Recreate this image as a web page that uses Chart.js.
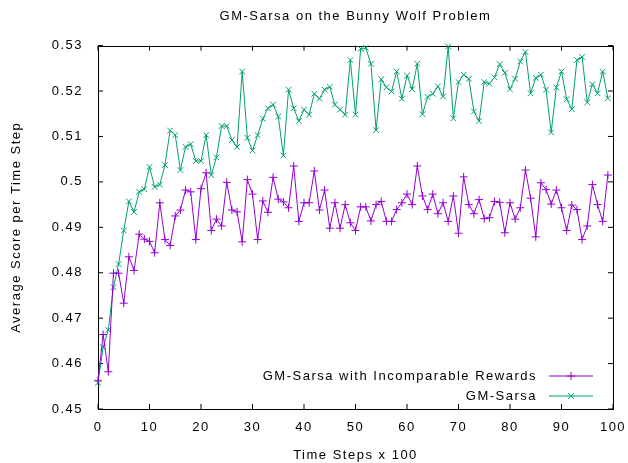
<!DOCTYPE html>
<html>
<head>
<meta charset="utf-8">
<script src="https://cdn.jsdelivr.net/npm/chart.js@4/dist/chart.umd.min.js"></script>
<style>
    html, body { margin: 0; padding: 0; background: #fff; }
</style>
</head>
<body>
<canvas id="grafica" width="628" height="463"></canvas>
<script>
"use strict";
/* Datos de la gráfica */
const pasos = [0, 1, 2, 3, 4, 5, 6, 7, 8, 9, 10, 11, 12, 13, 14, 15, 16, 17, 18, 19,
    20, 21, 22, 23, 24, 25, 26, 27, 28, 29, 30, 31, 32, 33, 34, 35, 36, 37, 38, 39,
    40, 41, 42, 43, 44, 45, 46, 47, 48, 49, 50, 51, 52, 53, 54, 55, 56, 57, 58, 59,
    60, 61, 62, 63, 64, 65, 66, 67, 68, 69, 70, 71, 72, 73, 74, 75, 76, 77, 78, 79,
    80, 81, 82, 83, 84, 85, 86, 87, 88, 89, 90, 91, 92, 93, 94, 95, 96, 97, 98, 99];

const incomparables = [0.4562, 0.4664, 0.4582, 0.4799, 0.4799, 0.4733, 0.4835, 0.4805, 0.4885, 0.4874,
    0.4869, 0.4844, 0.4954, 0.4873, 0.4860, 0.4925, 0.4938, 0.4982, 0.4978, 0.4873,
    0.4985, 0.5020, 0.4893, 0.4918, 0.4903, 0.4999, 0.4938, 0.4934, 0.4868, 0.5005,
    0.4973, 0.4873, 0.4958, 0.4933, 0.5010, 0.4962, 0.4956, 0.4943, 0.5035, 0.4913,
    0.4954, 0.4954, 0.5024, 0.4938, 0.4982, 0.4898, 0.4954, 0.4898, 0.4950, 0.4910,
    0.4893, 0.4945, 0.4945, 0.4914, 0.4950, 0.4957, 0.4913, 0.4913, 0.4939, 0.4954,
    0.4973, 0.4950, 0.5035, 0.4969, 0.4939, 0.4973, 0.4930, 0.4954, 0.4913, 0.4969,
    0.4887, 0.5011, 0.4950, 0.4930, 0.4961, 0.4919, 0.4921, 0.4957, 0.4955, 0.4888,
    0.4954, 0.4918, 0.4943, 0.5026, 0.4964, 0.4879, 0.4998, 0.4983, 0.4951, 0.4982,
    0.4943, 0.4893, 0.4949, 0.4939, 0.4873, 0.4903, 0.4994, 0.4950, 0.4913, 0.5015];

const gmSarsa = [0.4558, 0.4636, 0.4674, 0.4768, 0.4819, 0.4893, 0.4957, 0.4934, 0.4978, 0.4984,
    0.5033, 0.4989, 0.4994, 0.5037, 0.5113, 0.5103, 0.5026, 0.5077, 0.5083, 0.5046,
    0.5046, 0.5103, 0.5015, 0.5054, 0.5123, 0.5123, 0.5092, 0.5077, 0.5243, 0.5097,
    0.5069, 0.5103, 0.5139, 0.5162, 0.5170, 0.5144, 0.5058, 0.5203, 0.5162, 0.5134,
    0.5159, 0.5148, 0.5194, 0.5183, 0.5203, 0.5209, 0.5170, 0.5159, 0.5148, 0.5268,
    0.5148, 0.5293, 0.5295, 0.5260, 0.5114, 0.5226, 0.5208, 0.5199, 0.5243, 0.5183,
    0.5234, 0.5204, 0.5260, 0.5149, 0.5187, 0.5194, 0.5210, 0.5188, 0.5298, 0.5140,
    0.5220, 0.5236, 0.5227, 0.5155, 0.5134, 0.5220, 0.5216, 0.5230, 0.5259, 0.5240,
    0.5204, 0.5227, 0.5265, 0.5286, 0.5195, 0.5229, 0.5236, 0.5203, 0.5109, 0.5208,
    0.5243, 0.5182, 0.5160, 0.5268, 0.5275, 0.5175, 0.5215, 0.5195, 0.5243, 0.5184];

const marcasX = [0, 10, 20, 30, 40, 50, 60, 70, 80, 90, 100];
const marcasY = [0.45, 0.46, 0.47, 0.48, 0.49, 0.5, 0.51, 0.52, 0.53];
const etiquetasY = ["0.45", "0.46", "0.47", "0.48", "0.49", "0.5", "0.51", "0.52", "0.53"];

const colorMorado = "#9400d3";
const colorVerde = "#009e73";
const fuente = "'Liberation Sans', Arial, sans-serif";

function puntos(valores) {
    return pasos.map((p, i) => ({ x: p, y: valores[i] }));
}

/* Espaciado de letras al estilo gnuplot */
const espaciado = {
    id: "espaciado",
    beforeInit(chart) { chart.ctx.letterSpacing = "1.5px"; },
    beforeLayout(chart) { chart.ctx.letterSpacing = "1.5px"; },
    beforeDraw(chart) { chart.ctx.letterSpacing = "1.5px"; }
};

/* Marco y marcas hacia dentro */
const marco = {
    id: "marco",
    beforeDatasetsDraw(chart) {
        const { ctx, chartArea: a, scales } = chart;
        ctx.save();
        ctx.strokeStyle = "#000";
        ctx.lineWidth = 1;
        const largo = 5;
        marcasX.forEach(v => {
            const x = scales.x.getPixelForValue(v);
            ctx.beginPath();
            ctx.moveTo(x, a.bottom); ctx.lineTo(x, a.bottom - largo);
            ctx.moveTo(x, a.top); ctx.lineTo(x, a.top + largo);
            ctx.stroke();
        });
        marcasY.forEach(v => {
            const y = scales.y.getPixelForValue(v);
            ctx.beginPath();
            ctx.moveTo(a.left, y); ctx.lineTo(a.left + largo, y);
            ctx.moveTo(a.right, y); ctx.lineTo(a.right - largo, y);
            ctx.stroke();
        });
        ctx.strokeRect(Math.round(a.left) + 0.5, Math.round(a.top) + 0.5,
            Math.round(a.right - a.left), Math.round(a.bottom - a.top));
        ctx.restore();
    }
};

/* Leyenda dentro del área, abajo a la derecha */
const leyenda = {
    id: "leyenda",
    afterDraw(chart) {
        const { ctx, chartArea: a } = chart;
        ctx.save();
        ctx.font = "13px " + fuente;
        ctx.fillStyle = "#000";
        ctx.textAlign = "right";
        ctx.textBaseline = "middle";
        chart.data.datasets.forEach((ds, i) => {
            const y = a.bottom - 33 + i * 20;
            ctx.fillText(ds.label, a.right - 76, y);
            ctx.strokeStyle = ds.borderColor;
            ctx.lineWidth = 1;
            ctx.beginPath();
            ctx.moveTo(a.right - 64, y);
            ctx.lineTo(a.right - 20, y);
            ctx.stroke();
            const cx = a.right - 42;
            ctx.beginPath();
            if (ds.pointStyle === "cross") {
                ctx.moveTo(cx - 4, y); ctx.lineTo(cx + 4, y);
                ctx.moveTo(cx, y - 4); ctx.lineTo(cx, y + 4);
            } else {
                ctx.moveTo(cx - 3, y - 3); ctx.lineTo(cx + 3, y + 3);
                ctx.moveTo(cx - 3, y + 3); ctx.lineTo(cx + 3, y - 3);
            }
            ctx.stroke();
        });
        ctx.restore();
    }
};

function inicializarGrafica() {
    const canvas = document.getElementById("grafica");

    new Chart(canvas, {
        type: "line",
        data: {
            datasets: [{
                label: "GM-Sarsa with Incomparable Rewards",
                data: puntos(incomparables),
                borderColor: colorMorado,
                backgroundColor: colorMorado,
                borderWidth: 1,
                pointStyle: "cross",
                pointRadius: 4,
                pointBorderWidth: 1,
                tension: 0,
                clip: false
            }, {
                label: "GM-Sarsa",
                data: puntos(gmSarsa),
                borderColor: colorVerde,
                backgroundColor: colorVerde,
                borderWidth: 1,
                pointStyle: "crossRot",
                pointRadius: 4,
                pointBorderWidth: 1,
                tension: 0,
                clip: false
            }]
        },
        options: {
            responsive: false,
            devicePixelRatio: 1,
            animation: false,
            layout: { padding: { left: 0, right: 15, top: 0, bottom: 0 } },
            plugins: {
                legend: { display: false },
                tooltip: { enabled: false },
                title: {
                    display: true,
                    fullSize: false,
                    text: "GM-Sarsa on the Bunny Wolf Problem",
                    color: "#000",
                    font: { family: fuente, size: 13, weight: "normal" },
                    padding: { top: 9, bottom: 21 }
                }
            },
            scales: {
                x: {
                    type: "linear",
                    min: 0,
                    max: 100,
                    grid: { display: false, drawTicks: false },
                    border: { display: false },
                    ticks: {
                        stepSize: 10,
                        padding: 11,
                        color: "#000",
                        maxRotation: 0,
                        font: { family: fuente, size: 13 }
                    },
                    title: {
                        display: true,
                        text: "Time Steps x 100",
                        color: "#000",
                        font: { family: fuente, size: 13 },
                        padding: { top: 0, bottom: 0 }
                    },
                    afterFit(scale) {
                        scale.height = 54;
                        scale.paddingLeft = 0;
                        scale.paddingRight = 0;
                    }
                },
                y: {
                    min: 0.45,
                    max: 0.53,
                    grid: { display: false, drawTicks: false },
                    border: { display: false },
                    afterBuildTicks(scale) {
                        scale.ticks = marcasY.map(v => ({ value: v }));
                    },
                    ticks: {
                        padding: 15,
                        color: "#000",
                        font: { family: fuente, size: 13 },
                        callback: v => {
                            const i = marcasY.findIndex(m => Math.abs(m - v) < 1e-9);
                            return i >= 0 ? etiquetasY[i] : "";
                        }
                    },
                    title: {
                        display: true,
                        text: "Average Score per Time Step",
                        color: "#000",
                        font: { family: fuente, size: 13 },
                        padding: { top: 9, bottom: 0 }
                    },
                    afterFit(scale) { scale.width = 98; }
                }
            }
        },
        plugins: [espaciado, marco, leyenda]
    });
}

document.addEventListener("DOMContentLoaded", inicializarGrafica);
</script>
</body>
</html>
